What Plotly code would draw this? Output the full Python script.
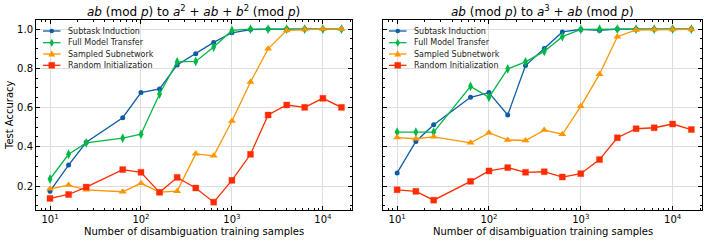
import plotly.graph_objects as go

x = [10, 16, 25, 63, 100, 160, 250, 400, 630, 1000, 1600, 2500, 4000, 6300, 10000, 16000]

series_names = ["Subtask Induction", "Full Model Transfer", "Sampled Subnetwork", "Random Initialization"]

left_subtask = [0.174, 0.307, 0.423, 0.548, 0.676, 0.695, 0.817, 0.874, 0.932, 0.981, 0.997, 1.0, 1.0, 1.0, 1.0, 1.0]
left_full = [0.236, 0.362, 0.420, 0.444, 0.464, 0.669, 0.833, 0.835, 0.908, 0.993, 1.0, 1.0, 1.0, 1.0, 1.0, 1.0]
left_sampled = [0.186, 0.205, 0.181, 0.171, 0.214, 0.169, 0.174, 0.364, 0.354, 0.531, 0.730, 0.899, 0.993, 0.998, 1.0, 1.0]
left_random = [0.137, 0.157, 0.195, 0.284, 0.270, 0.168, 0.244, 0.190, 0.118, 0.229, 0.362, 0.562, 0.613, 0.601, 0.647, 0.601]

right_subtask = [0.267, 0.427, 0.512, 0.652, 0.676, 0.562, 0.814, 0.901, 0.985, 0.998, 0.993, 1.0, 1.0, 1.0, 1.0, 1.0]
right_full = [0.475, 0.475, 0.475, 0.708, 0.652, 0.797, 0.833, 0.886, 0.961, 0.998, 1.0, 1.0, 1.0, 1.0, 1.0, 1.0]
right_sampled = [0.447, 0.441, 0.451, 0.420, 0.471, 0.435, 0.432, 0.485, 0.464, 0.606, 0.770, 0.961, 0.995, 0.997, 0.998, 0.998]
right_random = [0.181, 0.173, 0.128, 0.224, 0.277, 0.294, 0.270, 0.273, 0.246, 0.263, 0.335, 0.446, 0.492, 0.497, 0.516, 0.488]

titles = [
    "<i>ab</i> (mod <i>p</i>) to <i>a</i><sup>2</sup> + <i>ab</i> + <i>b</i><sup>2</sup> (mod <i>p</i>)",
    "<i>ab</i> (mod <i>p</i>) to <i>a</i><sup>3</sup> + <i>ab</i> (mod <i>p</i>)",
]
x_tickvals = [10, 100, 1000, 10000]
x_ticktext = ["10<sup>1</sup>", "10<sup>2</sup>", "10<sup>3</sup>", "10<sup>4</sup>"]
y_tickvals = [0.2, 0.4, 0.6, 0.8, 1.0]
y_ticktext = ["0.2", "0.4", "0.6", "0.8", "1.0"]
x_title = "Number of disambiguation training samples"
y_title = "Test Accuracy"

colors = ["#0C5DA5", "#00B945", "#FF9500", "#FF2C00"]
halos = ["rgba(12,93,165,0.35)", "rgba(0,185,69,0.35)", "rgba(255,149,0,0.35)", "rgba(255,44,0,0.35)"]
symbols = ["circle", "diamond-tall", "triangle-up", "square"]
sizes = [5, 7, 7, 6]

FONT = "DejaVu Sans"
W, H = 706, 242

def px(xp):
    return xp / W

def py(yp):
    return 1 - yp / H

fig = go.Figure()

panels = [
    ([left_subtask, left_full, left_sampled, left_random], "x", "y"),
    ([right_subtask, right_full, right_sampled, right_random], "x2", "y2"),
]
for data, xa, ya in panels:
    for i, ys in enumerate(data):
        fig.add_trace(go.Scatter(
            x=x, y=ys, mode="lines+markers", name=series_names[i],
            xaxis=xa, yaxis=ya, showlegend=False,
            line=dict(color=colors[i], width=1.3),
            marker=dict(color=colors[i], symbol=symbols[i], size=sizes[i],
                        line=dict(width=1 if i == 3 else 0, color=halos[i])),
        ))

dom_y = [py(210), py(20)]
dom_x1 = [px(36), px(352)]
dom_x2 = [px(383), px(702)]

def xaxis(dom, anchor):
    return dict(
        type="log", domain=dom, anchor=anchor, range=[0.846, 4.32],
        tickvals=x_tickvals, ticktext=x_ticktext,
        ticks="inside", ticklen=4, tickcolor="black", mirror="allticks",
        showline=True, linecolor="black", linewidth=1,
        showgrid=True, gridcolor="#dedede", gridwidth=1,
        minor=dict(ticks="inside", ticklen=2, tickcolor="black", dtick="D1", showgrid=False),
        tickfont=dict(size=10, family=FONT, color="black"),
        zeroline=False, automargin=False,
    )

def yaxis(dom, anchor, labels):
    return dict(
        domain=dom, anchor=anchor, range=[0.078, 1.046],
        tickvals=y_tickvals, ticktext=y_ticktext, showticklabels=labels,
        ticks="inside", ticklen=4, tickcolor="black", mirror="allticks",
        showline=True, linecolor="black", linewidth=1,
        showgrid=True, gridcolor="#dedede", gridwidth=1,
        minor=dict(ticks="inside", ticklen=2, tickcolor="black", dtick=0.05, tick0=0, showgrid=False),
        tickfont=dict(size=10, family=FONT, color="black"),
        zeroline=False, automargin=False,
    )

annotations = []
shapes = []
for k, dom in enumerate([dom_x1, dom_x2]):
    cx = (dom[0] + dom[1]) / 2
    annotations.append(dict(text=titles[k], x=cx, y=py(11), xref="paper", yref="paper",
                            xanchor="center", yanchor="middle", showarrow=False,
                            font=dict(size=12, family=FONT, color="black")))
    annotations.append(dict(text=x_title, x=cx, y=py(231), xref="paper", yref="paper",
                            xanchor="center", yanchor="middle", showarrow=False,
                            font=dict(size=10, family=FONT, color="black")))

annotations.append(dict(text=y_title, x=px(9), y=(dom_y[0] + dom_y[1]) / 2, xref="paper", yref="paper",
                        xanchor="center", yanchor="middle", showarrow=False, textangle=-90,
                        font=dict(size=10, family=FONT, color="black")))

# custom compact legends (one per panel)
rows = [31, 42.7, 54, 65.3]
for lx0 in [43, 389]:
    lx1 = lx0 + 17.5
    mx = (lx0 + lx1) / 2
    for i in range(4):
        yy = rows[i]
        shapes.append(dict(type="line", xref="paper", yref="paper",
                           x0=px(lx0), x1=px(lx1), y0=py(yy), y1=py(yy),
                           line=dict(color=colors[i], width=1.3)))
        if symbols[i] == "circle":
            r = 2.3
            shapes.append(dict(type="circle", xref="paper", yref="paper",
                               x0=px(mx - r), x1=px(mx + r), y0=py(yy + r), y1=py(yy - r),
                               fillcolor=colors[i], line=dict(width=0)))
        elif symbols[i] == "square":
            r = 3
            shapes.append(dict(type="rect", xref="paper", yref="paper",
                               x0=px(mx - r), x1=px(mx + r), y0=py(yy + r), y1=py(yy - r),
                               fillcolor=colors[i], line=dict(width=1, color=halos[i])))
        elif symbols[i] == "triangle-up":
            path = "M {} {} L {} {} L {} {} Z".format(px(mx), py(yy - 3.5), px(mx - 3.5), py(yy + 2.5),
                                                     px(mx + 3.5), py(yy + 2.5))
            shapes.append(dict(type="path", xref="paper", yref="paper", path=path,
                               fillcolor=colors[i], line=dict(width=0)))
        else:
            path = "M {} {} L {} {} L {} {} L {} {} Z".format(px(mx), py(yy - 4), px(mx + 2.2), py(yy),
                                                             px(mx), py(yy + 4), px(mx - 2.2), py(yy))
            shapes.append(dict(type="path", xref="paper", yref="paper", path=path,
                               fillcolor=colors[i], line=dict(width=0)))
        annotations.append(dict(text=series_names[i], x=px(lx1 + 5), y=py(yy), xref="paper", yref="paper",
                                xanchor="left", yanchor="middle", showarrow=False,
                                font=dict(size=8, family=FONT, color="#222")))

fig.update_layout(
    width=W, height=H,
    margin=dict(l=0, r=0, t=0, b=0),
    paper_bgcolor="white", plot_bgcolor="white",
    font=dict(family=FONT, color="black"),
    showlegend=False,
    xaxis=xaxis(dom_x1, "y"),
    yaxis=yaxis(dom_y, "x", True),
    xaxis2=xaxis(dom_x2, "y2"),
    yaxis2=yaxis(dom_y, "x2", False),
    annotations=annotations,
    shapes=shapes,
)

fig.write_html("out.html", config={"displayModeBar": False},
               post_script="document.body.style.margin='0';document.body.style.overflow='hidden';")
